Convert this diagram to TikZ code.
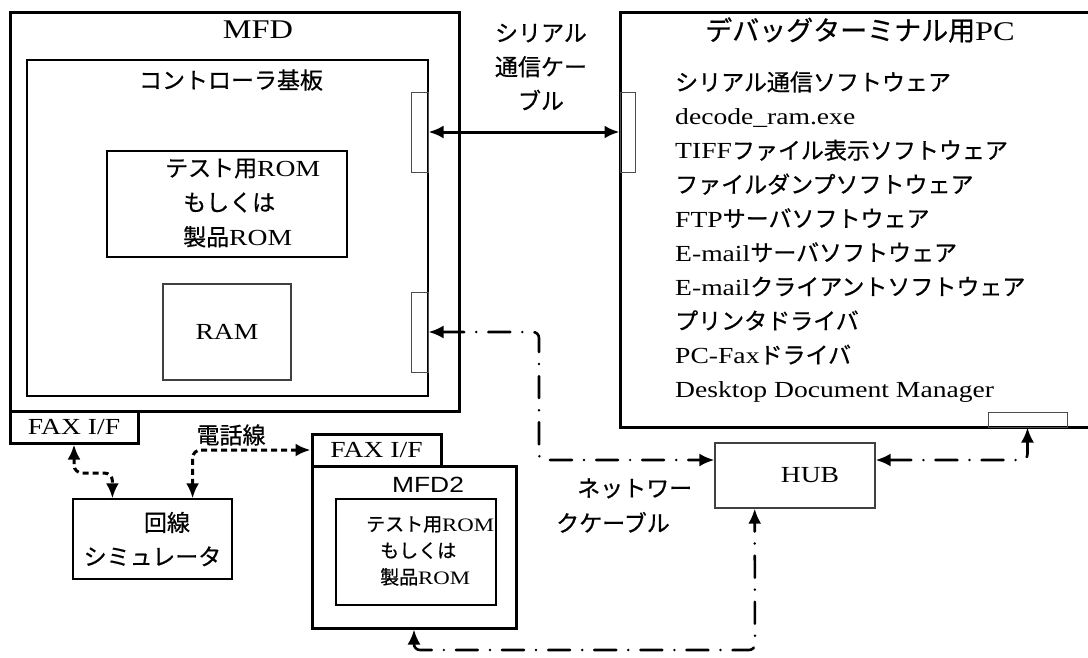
\documentclass[tikz,border=0pt]{standalone}
\usepackage{fontspec}
\setmainfont[FakeStretch=1.2]{Liberation Serif}
\newfontfamily\jp[FakeBold=0.6]{Noto Sans CJK JP}
\newfontfamily\sanslat[FakeStretch=1.2]{Liberation Sans}
\usetikzlibrary{arrows.meta,calc}
\newcommand\fsz[2]{\fontsize{#1}{#2}\selectfont}
\begin{document}
\begin{tikzpicture}[x=1pt,y=-1pt,
    box/.style={draw,rectangle,inner sep=0pt},
    thickbox/.style={box,line width=3pt},
    midbox/.style={box,line width=2pt},
    thinbox/.style={box,line width=1.3pt,draw=black!75},
    port/.style={box,line width=1pt,draw=black!70},
    txt/.style={inner sep=0pt},
    >={Latex[length=15pt,width=13pt]},
    serial/.style={line width=3pt},
    tel/.style={line width=3pt,dash pattern=on 6pt off 4pt,rounded corners=8pt},
    net/.style={line width=2.6pt,dash pattern=on 22pt off 12pt on 0.1pt off 12pt,line cap=round,rounded corners=6pt}]
  \useasboundingbox (0,0) rectangle (1088,657);
  \clip (0,0) rectangle (1088,657);

  \node[thickbox,minimum width=449pt,minimum height=399pt] (mfd) at (234.5,211.5) {};
  \node[txt,font={\fsz{27}{27}}] (mfdname) at (258,30) {MFD};
  \node[midbox,minimum width=401pt,minimum height=336pt] (board) at (227.5,228) {};
  \node[txt,font={\jp\fsz{23}{23}}] (boardname) at (231,80) {コントローラ基板};
  \node[midbox,minimum width=240pt,minimum height=106pt] (rom) at (227,204) {};
  \node[txt,align=left,anchor=west,font={\fsz{23}{34.5}}] (romtext) at (165,203)
    {{\jp テスト用}ROM\\\hspace*{18pt}{\jp もしくは}\\\hspace*{18pt}{\jp 製品}ROM};
  \node[thinbox,minimum width=128pt,minimum height=96pt,font={\fsz{23}{23}}] (ram) at (227,332) {RAM};
  \node[port,minimum width=17pt,minimum height=80pt] (sport) at (419.5,132) {};
  \node[port,minimum width=17pt,minimum height=80pt] (nport) at (419.5,332) {};

  \node[thickbox,minimum width=480pt,minimum height=415pt] (pc) at (860,219.5) {};
  \node[txt,anchor=west,font={\jp\fsz{27}{27}}] (pcname) at (705,30) {デバッグターミナル用{\rmfamily PC}};
  \node[port,minimum width=15pt,minimum height=80pt] (pcsport) at (627.5,132) {};
  \node[port,minimum width=79pt,minimum height=15pt] (pcnport) at (1027.5,419.5) {};
  \node[txt,anchor=west,align=left,font={\fsz{23}{34.1}}] (pcsoft) at (675,237)
    {{\jp シリアル通信ソフトウェア}\\
     decode\_ram.exe\\
     TIFF{\jp ファイル表示ソフトウェア}\\
     {\jp ファイルダンプソフトウェア}\\
     FTP{\jp サーバソフトウェア}\\
     E-mail{\jp サーバソフトウェア}\\
     E-mail{\jp クライアントソフトウェア}\\
     {\jp プリンタドライバ}\\
     PC-Fax{\jp ドライバ}\\
     Desktop Document Manager};
  \node[txt,align=center,font={\jp\fsz{23}{34}}] (serialname) at (541,67) {シリアル\\通信ケー\\ブル};

  \node[thickbox,minimum width=128pt,minimum height=32pt,font={\fsz{23}{23}}] (fax1) at (74,427) {FAX I/F};
  \node[txt,font={\jp\fsz{23}{23}}] (telname) at (231,435) {電話線};
  \node[box,line width=1.3pt,minimum width=159pt,minimum height=80pt,align=center,font={\jp\fsz{23}{34}}] (linesim) at (152.5,539)
    {\hspace*{29pt}回線\\シミュレータ};

  \node[thickbox,minimum width=129pt,minimum height=32pt,font={\fsz{23}{23}}] (fax2) at (376.5,450) {FAX I/F};
  \node[thickbox,minimum width=204pt,minimum height=162pt] (mfd2) at (414,547) {};
  \node[txt,font={\sanslat\fsz{22}{22}}] (mfd2name) at (428,485) {MFD2};
  \node[midbox,minimum width=160pt,minimum height=106pt] (rom2) at (416,552) {};
  \node[txt,align=left,anchor=west,font={\fsz{19}{26.5}}] (rom2text) at (366,551)
    {{\jp テスト用}ROM\\\hspace*{14pt}{\jp もしくは}\\\hspace*{14pt}{\jp 製品}ROM};

  \node[thinbox,minimum width=160pt,minimum height=65pt,font={\fsz{23}{23}}] (hub) at (795,475.5) {\hspace*{30pt}HUB};
  \node[txt,align=left,anchor=west,font={\jp\fsz{23}{35}}] (netname) at (556,505.5) {\hspace*{21pt}ネットワー\\クケーブル};

  \coordinate (telbend) at (90,473);
  \coordinate (netbend) at (539,460);
  \coordinate (netlow) at (755,650);
  \begin{scope}[<->]
    \draw[serial] (sport.east) -- (pcsport.west);
    \draw[tel] (fax1.south) |- (telbend) -| ($(linesim.north west)!0.25!(linesim.north east)$);
    \draw[tel] ($(linesim.north west)!0.75!(linesim.north east)$) |- (fax2.west);
    \draw[net] (nport.east) -| (netbend) -- (netbend -| hub.west);
    \draw[net] (hub.east |- netbend) -| (pcnport.south);
    \draw[net] (mfd2.south) |- (netlow) -- ($(hub.south west)!0.25!(hub.south east)$);
  \end{scope}
\end{tikzpicture}
\end{document}
